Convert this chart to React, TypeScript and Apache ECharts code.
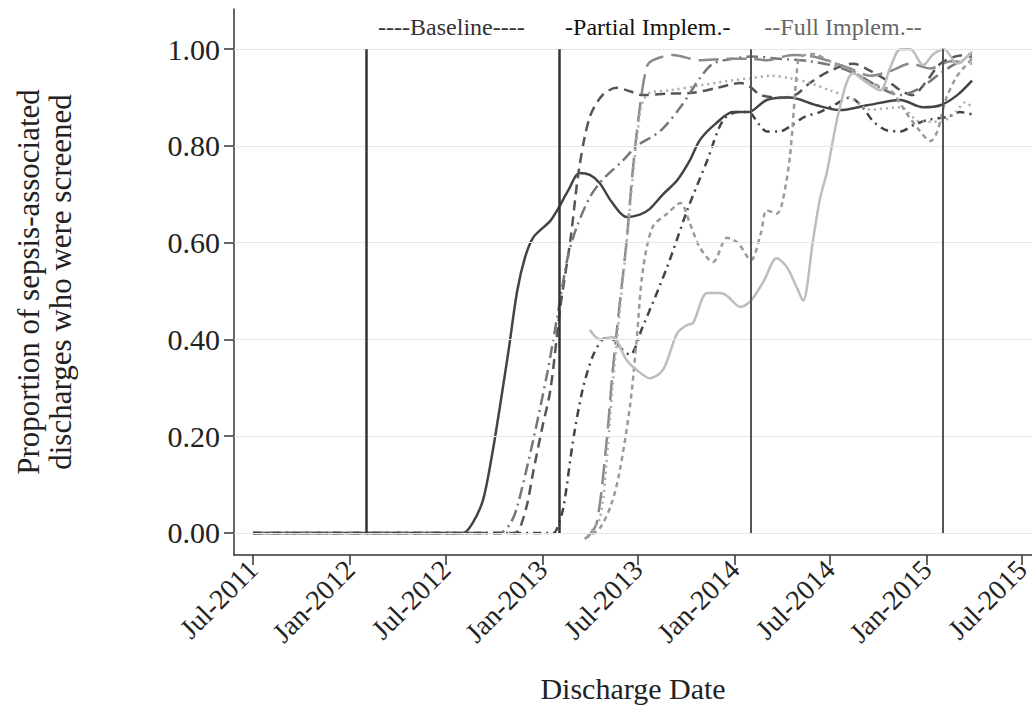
import React, { useEffect, useRef } from 'react';
import * as echarts from 'echarts';

const FONT = '"Liberation Serif", "Times New Roman", serif';
const MONTHS = ['Jan', 'Feb', 'Mar', 'Apr', 'May', 'Jun', 'Jul', 'Aug', 'Sep', 'Oct', 'Nov', 'Dec'];

const xTickDates = ['2011-07-01', '2012-01-01', '2012-07-01', '2013-01-01', '2013-07-01', '2014-01-01', '2014-07-01', '2015-01-01', '2015-07-01'];
const yTickValues = [0, 0.2, 0.4, 0.6, 0.8, 1.0];
const phaseDates = ['2012-02-01', '2013-02-01', '2014-02-01', '2015-02-01'];
const phaseLabels = ['----Baseline----', '-Partial Implem.-', '--Full Implem.--'];
const phaseLabelDates = ['2012-07-12', '2013-07-20', '2014-07-26'];

// Solid dark
const seriesA: [string, number][] = [
  ['2011-07-01', 0], ['2012-08-03', 0], ['2012-08-21', 0.02], ['2012-09-10', 0.068], ['2012-09-27', 0.16],
  ['2012-10-12', 0.26], ['2012-10-29', 0.38], ['2012-11-14', 0.5], ['2012-11-29', 0.57], ['2012-12-14', 0.61],
  ['2013-01-01', 0.63], ['2013-01-16', 0.645], ['2013-01-29', 0.667], ['2013-02-20', 0.71], ['2013-03-12', 0.744],
  ['2013-04-01', 0.74], ['2013-04-20', 0.723], ['2013-05-12', 0.685], ['2013-06-10', 0.653], ['2013-07-05', 0.658],
  ['2013-07-24', 0.67], ['2013-08-18', 0.7], ['2013-09-14', 0.729], ['2013-10-08', 0.77], ['2013-10-27', 0.812],
  ['2013-11-25', 0.845], ['2013-12-29', 0.87], ['2014-01-27', 0.87], ['2014-03-03', 0.895], ['2014-04-16', 0.9],
  ['2014-06-06', 0.884], ['2014-07-20', 0.874], ['2014-09-10', 0.884], ['2014-11-12', 0.895], ['2014-12-25', 0.88],
  ['2015-01-27', 0.884], ['2015-02-28', 0.905], ['2015-03-28', 0.935],
];

// Dashed dark
const seriesB: [string, number][] = [
  ['2011-07-01', 0], ['2012-11-10', 0], ['2012-11-19', 0.01], ['2012-12-03', 0.06], ['2012-12-14', 0.124],
  ['2013-01-01', 0.22], ['2013-01-16', 0.295], ['2013-02-04', 0.467], ['2013-02-23', 0.605], ['2013-03-12', 0.756],
  ['2013-04-01', 0.86], ['2013-04-25', 0.905], ['2013-05-22', 0.92], ['2013-06-16', 0.913], ['2013-07-10', 0.905],
  ['2013-08-26', 0.908], ['2013-10-14', 0.91], ['2013-11-29', 0.92], ['2014-01-12', 0.93], ['2014-01-27', 0.925],
  ['2014-02-20', 0.905], ['2014-03-28', 0.9], ['2014-04-26', 0.905], ['2014-05-24', 0.93], ['2014-07-01', 0.955],
  ['2014-08-14', 0.97], ['2014-09-16', 0.955], ['2014-10-18', 0.935], ['2014-11-12', 0.915], ['2014-12-05', 0.905],
  ['2014-12-29', 0.93], ['2015-01-27', 0.97], ['2015-02-25', 0.985], ['2015-03-28', 0.99],
];

// Dash-dot medium gray
const seriesC: [string, number][] = [
  ['2011-07-01', 0], ['2012-10-12', 0], ['2012-11-01', 0.02], ['2012-11-14', 0.054], ['2012-12-14', 0.19],
  ['2013-01-10', 0.33], ['2013-01-29', 0.446], ['2013-02-18', 0.57], ['2013-03-07', 0.632], ['2013-04-01', 0.694],
  ['2013-04-25', 0.73], ['2013-06-03', 0.77], ['2013-06-29', 0.8], ['2013-08-12', 0.83], ['2013-09-20', 0.88],
  ['2013-10-27', 0.94], ['2013-11-21', 0.97], ['2013-12-29', 0.98], ['2014-02-01', 0.985], ['2014-03-28', 0.98],
  ['2014-05-24', 0.975], ['2014-07-10', 0.965], ['2014-08-27', 0.945], ['2014-10-05', 0.92], ['2014-11-12', 0.905],
  ['2014-12-20', 0.92], ['2015-01-27', 0.95], ['2015-02-25', 0.97], ['2015-03-28', 0.985],
];

// Long dash gray
const seriesD: [string, number][] = [
  ['2013-03-28', -0.008], ['2013-04-14', 0.02], ['2013-05-03', 0.19], ['2013-05-14', 0.33], ['2013-05-27', 0.467],
  ['2013-06-10', 0.605], ['2013-06-21', 0.744], ['2013-07-05', 0.88], ['2013-07-18', 0.963], ['2013-07-29', 0.977],
  ['2013-09-06', 0.988], ['2013-10-27', 0.977], ['2013-12-18', 0.98], ['2014-02-01', 0.98], ['2014-03-03', 0.977],
  ['2014-04-22', 0.988], ['2014-05-30', 0.985], ['2014-07-01', 0.975], ['2014-08-08', 0.96], ['2014-09-16', 0.945],
  ['2014-10-24', 0.955], ['2014-12-01', 0.97], ['2015-01-08', 0.96], ['2015-02-16', 0.975], ['2015-03-28', 0.97],
];

// Dash-dot dark
const seriesE: [string, number][] = [
  ['2011-07-01', 0], ['2013-01-22', 0], ['2013-01-29', 0.01], ['2013-02-10', 0.054], ['2013-02-28', 0.19],
  ['2013-03-18', 0.295], ['2013-04-06', 0.364], ['2013-04-25', 0.4], ['2013-05-08', 0.403], ['2013-06-03', 0.378],
  ['2013-06-16', 0.368], ['2013-07-10', 0.425], ['2013-08-26', 0.55], ['2013-10-03', 0.667], ['2013-11-10', 0.77],
  ['2013-12-10', 0.853], ['2014-01-07', 0.87], ['2014-01-27', 0.87], ['2014-02-16', 0.845], ['2014-03-03', 0.83],
  ['2014-03-28', 0.83], ['2014-04-16', 0.84], ['2014-05-14', 0.86], ['2014-06-12', 0.87], ['2014-07-10', 0.885],
  ['2014-08-08', 0.9], ['2014-09-01', 0.88], ['2014-09-22', 0.85], ['2014-10-18', 0.832], ['2014-11-12', 0.83],
  ['2014-12-10', 0.845], ['2015-01-08', 0.855], ['2015-02-10', 0.86], ['2015-03-05', 0.87], ['2015-03-28', 0.865],
];

// Short dash light gray
const seriesF: [string, number][] = [
  ['2013-03-22', -0.012], ['2013-04-20', 0.01], ['2013-05-12', 0.06], ['2013-05-27', 0.124], ['2013-06-16', 0.26],
  ['2013-06-29', 0.4], ['2013-07-10', 0.537], ['2013-07-29', 0.632], ['2013-08-26', 0.66], ['2013-09-20', 0.682],
  ['2013-10-08', 0.64], ['2013-10-27', 0.59], ['2013-11-21', 0.56], ['2013-12-18', 0.61], ['2014-01-07', 0.6],
  ['2014-02-01', 0.564], ['2014-02-20', 0.62], ['2014-03-03', 0.667], ['2014-03-22', 0.66], ['2014-04-01', 0.68],
  ['2014-04-16', 0.777], ['2014-04-29', 0.95], ['2014-05-05', 0.983], ['2014-05-30', 0.99], ['2014-07-01', 0.975],
  ['2014-08-14', 0.955], ['2014-09-16', 0.93], ['2014-10-24', 0.915], ['2014-11-22', 0.87], ['2014-12-16', 0.835],
  ['2015-01-08', 0.81], ['2015-01-21', 0.83], ['2015-02-06', 0.895], ['2015-02-25', 0.94], ['2015-03-15', 0.965],
  ['2015-03-28', 0.98],
];

// Dotted light gray
const seriesG: [string, number][] = [
  ['2013-03-28', -0.005], ['2013-04-20', 0.03], ['2013-05-03', 0.15], ['2013-05-14', 0.3], ['2013-05-27', 0.45],
  ['2013-06-10', 0.6], ['2013-06-21', 0.73], ['2013-07-01', 0.83], ['2013-07-10', 0.89], ['2013-07-24', 0.91],
  ['2013-09-01', 0.915], ['2013-10-27', 0.925], ['2013-12-24', 0.935], ['2014-02-01', 0.94], ['2014-03-10', 0.945],
  ['2014-04-16', 0.94], ['2014-05-24', 0.93], ['2014-07-01', 0.915], ['2014-08-08', 0.9], ['2014-09-16', 0.875],
  ['2014-11-12', 0.88], ['2014-12-20', 0.85], ['2015-01-27', 0.85], ['2015-02-25', 0.87], ['2015-03-15', 0.89],
  ['2015-03-28', 0.88],
];

// Solid light gray
const seriesH: [string, number][] = [
  ['2013-04-01', 0.42], ['2013-04-20', 0.4], ['2013-05-14', 0.405], ['2013-06-10', 0.357], ['2013-06-29', 0.337],
  ['2013-07-24', 0.32], ['2013-08-18', 0.337], ['2013-09-14', 0.413], ['2013-10-03', 0.43], ['2013-10-14', 0.434],
  ['2013-11-10', 0.496], ['2013-12-05', 0.496], ['2013-12-18', 0.49], ['2014-01-12', 0.467], ['2014-02-01', 0.48],
  ['2014-02-25', 0.52], ['2014-03-22', 0.568], ['2014-04-10', 0.55], ['2014-04-29', 0.508], ['2014-05-11', 0.48],
  ['2014-05-30', 0.605], ['2014-06-12', 0.69], ['2014-06-25', 0.744], ['2014-07-20', 0.88], ['2014-08-14', 0.95],
  ['2014-09-10', 0.93], ['2014-10-05', 0.915], ['2014-10-24', 0.963], ['2014-11-12', 1.0], ['2014-12-01', 1.0],
  ['2014-12-25', 0.967], ['2015-01-14', 0.99], ['2015-02-03', 1.0], ['2015-02-28', 0.97], ['2015-03-24', 0.99],
  ['2015-03-28', 0.995],
];

const ts = (s: string) => {
  const [y, m, d] = s.split('-').map(Number);
  return Date.UTC(y, m - 1, d);
};

const styles = [
  { data: seriesA, color: '#444444', width: 2.5, type: 'solid' as any },
  { data: seriesB, color: '#555555', width: 2.5, type: [10, 6] },
  { data: seriesC, color: '#777777', width: 2.5, type: [12, 5, 2, 5] },
  { data: seriesD, color: '#8a8a8a', width: 2.5, type: [20, 8] },
  { data: seriesE, color: '#444444', width: 2.5, type: [8, 5, 2, 5] },
  { data: seriesF, color: '#9a9a9a', width: 2.5, type: [5, 4] },
  { data: seriesG, color: '#aaaaaa', width: 2.5, type: [2, 4] },
  { data: seriesH, color: '#bdbdbd', width: 2.5, type: 'solid' },
];

const phaseLineColors = ['#333333', '#333333', '#555555', '#555555'];
const phaseLineWidths = [2.5, 2.5, 2, 2];
const phaseLabelColors = ['#333333', '#111111', '#666666'];

export default function App() {
  const ref = useRef<HTMLDivElement>(null);
  useEffect(() => {
    if (!ref.current) return;
    const chart = echarts.init(ref.current, null, { renderer: 'svg' });
    const xTicks = xTickDates.map(ts);
    const series: any[] = [
      {
        type: 'line',
        name: 'frame',
        data: [],
        z: 1,
        silent: true,
        markLine: {
          silent: true,
          symbol: 'none',
          animation: false,
          label: { show: false },
          lineStyle: { color: '#e6e6e6', width: 1, type: 'solid' },
          data: yTickValues.map((v) => ({ yAxis: v })),
        },
      },
      ...styles.map((s, i) => ({
        type: 'line',
        name: 'S' + (i + 1),
        data: s.data.map(([d, v]) => [ts(d), v]),
        showSymbol: false,
        symbol: 'none',
        smooth: 0.3,
        z: 3,
        lineStyle: { color: s.color, width: s.width, type: s.type },
      })),
      {
        type: 'line',
        name: 'phases',
        data: [],
        z: 4,
        silent: true,
        markLine: {
          silent: true,
          symbol: 'none',
          animation: false,
          label: { show: false },
          data: phaseDates.map((d, i) => [
            { coord: [ts(d), 0], lineStyle: { color: phaseLineColors[i], width: phaseLineWidths[i], type: 'solid' } },
            { coord: [ts(d), 1] },
          ]),
        },
        markPoint: {
          silent: true,
          animation: false,
          symbol: 'circle',
          symbolSize: 0,
          data: phaseLabels.map((t, i) => ({
            coord: [ts(phaseLabelDates[i]), 1.045],
            label: {
              show: true,
              position: 'inside',
              formatter: t,
              color: phaseLabelColors[i],
              fontFamily: FONT,
              fontSize: 24,
            },
          })),
        },
      },
    ];
    chart.setOption({
      animation: false,
      backgroundColor: '#ffffff',
      textStyle: { fontFamily: FONT },
      grid: { left: 234, right: 0, top: 9, bottom: 154, containLabel: false, outerBoundsMode: 'none' },
      xAxis: {
        type: 'value',
        min: ts('2011-05-26'),
        max: ts('2015-07-20'),
        name: 'Discharge Date',
        nameLocation: 'middle',
        nameGap: 118,
        nameTextStyle: { fontFamily: FONT, fontSize: 30, color: '#222' },
        axisLine: { show: true, onZero: false, lineStyle: { color: '#333', width: 1.5 } },
        axisTick: { show: true, length: 10, customValues: xTicks, lineStyle: { color: '#333', width: 1.5 } },
        axisLabel: {
          customValues: xTicks,
          rotate: 45,
          margin: 10,
          fontFamily: FONT,
          fontSize: 28,
          color: '#222',
          hideOverlap: false,
          formatter: (v: number) => {
            const d = new Date(v);
            return MONTHS[d.getUTCMonth()] + '-' + d.getUTCFullYear();
          },
        },
        splitLine: { show: false },
      },
      yAxis: {
        type: 'value',
        min: -0.0455,
        max: 1.083,
        name: 'Proportion of sepsis-associated\ndischarges who were screened',
        nameLocation: 'middle',
        nameGap: 158,
        nameRotate: 90,
        nameTextStyle: { fontFamily: FONT, fontSize: 31, color: '#222', lineHeight: 32 },
        axisLine: { show: true, onZero: false, lineStyle: { color: '#333', width: 1.5 } },
        axisTick: { show: true, length: 10, customValues: yTickValues, lineStyle: { color: '#333', width: 1.5 } },
        axisLabel: {
          customValues: yTickValues,
          margin: 14,
          fontFamily: FONT,
          fontSize: 30,
          color: '#222',
          formatter: (v: number) => v.toFixed(2),
        },
        splitLine: { show: false },
      },
      series,
    });
    return () => chart.dispose();
  }, []);
  return <div ref={ref} style={{ position: 'fixed', left: 0, top: 0, width: 1032, height: 709, background: '#fff' }} />;
}
